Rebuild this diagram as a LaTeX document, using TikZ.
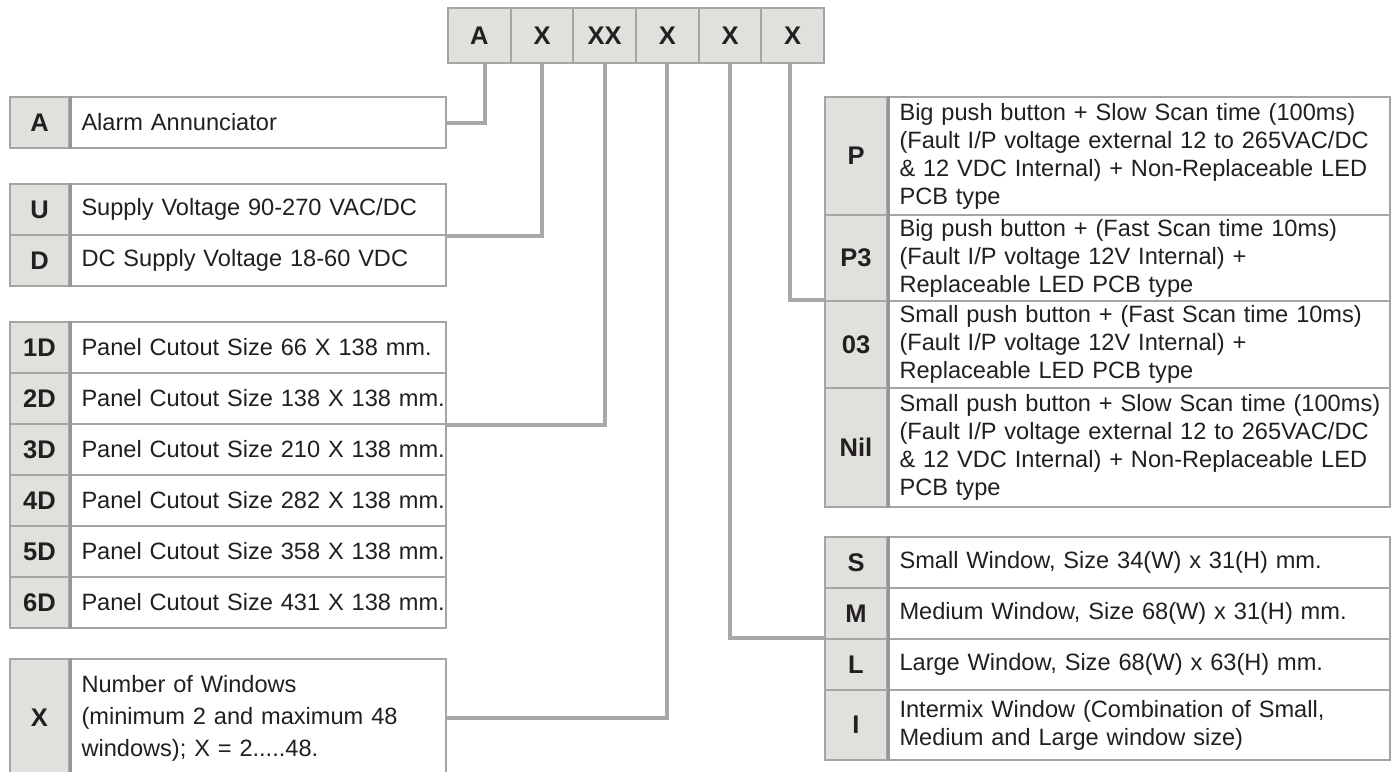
\documentclass[tikz,border=0pt]{standalone}
\usepackage{fontspec}
\setmainfont{Liberation Sans}
\definecolor{linegray}{RGB}{165,165,165}
\definecolor{divgray}{RGB}{150,150,150}
\definecolor{wiregray}{RGB}{168,168,168}
\definecolor{cellgray}{RGB}{224,224,220}
\definecolor{ink}{RGB}{35,31,32}
\newcommand{\bigtxt}{\fontsize{23.6}{28}\selectfont}
\newcommand{\codetxt}{\fontsize{25.5}{28}\selectfont\bfseries}

\begin{document}
\begin{tikzpicture}[x=1pt, y=-1pt,
  cell/.style={draw=linegray, line width=2pt, fill=cellgray, anchor=north west, inner sep=0pt, minimum width=62.67pt, minimum height=55pt, text=ink, font=\codetxt},
  code/.style={draw=linegray, line width=2pt, fill=cellgray, anchor=north west, inner sep=0pt, minimum width=59pt, minimum height=51pt, text=ink, font=\codetxt},
  rcode/.style={code, minimum width=62pt},
  desc/.style={draw=linegray, line width=2pt, fill=white, anchor=north west, inner sep=0pt, text width=#1, minimum height=51pt, align=left, text=ink, font=\bigtxt, execute at begin node={\leftskip=12.5pt}},
  divider/.style={draw=divgray, line width=3pt},
  wire/.style={draw=wiregray, line width=4pt}
]
\useasboundingbox (0,0) rectangle (1391,771);

% order code
\foreach \t [count=\i] in {A,X,XX,X,X,X}
  \node[cell] (c\i) at ({447+62.67*(\i-1)},7) {\t};

% left side
\node[code] (a) at (9,96) {A};
\node[desc=377pt] (ad) at (68,96) {Alarm Annunciator};

\node[code] (u) at (9,183) {U};
\node[desc=377pt] (ud) at (68,183) {Supply Voltage 90-270 VAC/DC};
\node[code] (d) at (9,234) {D};
\node[desc=377pt] (dd) at (68,234) {DC Supply Voltage 18-60 VDC};

\foreach \k/\sz [count=\i from 0] in {1D/66,2D/138,3D/210,4D/282,5D/358,6D/431} {
  \node[code] (p\k) at ({9},{321+51*\i}) {\k};
  \node[desc=377pt] (pd\k) at ({68},{321+51*\i}) {Panel Cutout Size \sz\ X 138 mm.};
}

\node[code, minimum height=118pt] (x) at (9,658) {X};
\node[desc=377pt, minimum height=118pt, font=\fontsize{23.6}{32}\selectfont] (xd) at (68,658) {Number of Windows\\(minimum 2 and maximum 48\\windows); X = 2.....48.};

% right side
\node[rcode, minimum height=118pt] (p) at (824,96) {P};
\node[desc=503pt, minimum height=118pt] (pd) at (886,96) {Big push button + Slow Scan time (100ms)\\(Fault I/P voltage external 12 to 265VAC/DC\\\& 12 VDC Internal) + Non-Replaceable LED\\PCB type};
\node[rcode, minimum height=86pt] (p3) at (824,214) {P3};
\node[desc=503pt, minimum height=86pt] (p3d) at (886,214) {Big push button + (Fast Scan time 10ms)\\(Fault I/P voltage 12V Internal) +\\Replaceable LED PCB type};
\node[rcode, minimum height=87pt] (o3) at (824,300) {03};
\node[desc=503pt, minimum height=87pt] (o3d) at (886,300) {Small push button + (Fast Scan time 10ms)\\(Fault I/P voltage 12V Internal) +\\Replaceable LED PCB type};
\node[rcode, minimum height=119pt] (nil) at (824,387) {Nil};
\node[desc=503pt, minimum height=119pt] (nild) at (886,387) {Small push button + Slow Scan time (100ms)\\(Fault I/P voltage external 12 to 265VAC/DC\\\& 12 VDC Internal) + Non-Replaceable LED\\PCB type};

\node[rcode] (s) at (824,536) {S};
\node[desc=503pt] (sd) at (886,536) {Small Window, Size 34(W) x 31(H) mm.};
\node[rcode] (m) at (824,587) {M};
\node[desc=503pt] (md) at (886,587) {Medium Window, Size 68(W) x 31(H) mm.};
\node[rcode] (l) at (824,638) {L};
\node[desc=503pt] (ld) at (886,638) {Large Window, Size 68(W) x 63(H) mm.};
\node[rcode, minimum height=70pt] (i) at (824,689) {I};
\node[desc=503pt, minimum height=70pt] (id) at (886,689) {Intermix Window (Combination of Small,\\Medium and Large window size)};

% code column edges
\foreach \n in {a,u,d,p1D,p2D,p3D,p4D,p5D,p6D,x,p,p3,o3,nil,s,m,l,i}
  \draw[divider] (\n.north east) -- (\n.south east);

% connectors
\draw[wire] (ad.east) -| ([xshift=6pt]c1.south);
\draw[wire] (ud.south east) -| (c2.south);
\draw[wire] (pd2D.south east) -| (c3.south);
\draw[wire] (xd.east) -| (c4.south);
\draw[wire] (c5.south) |- (l.north west);
\draw[wire] ([xshift=-3pt]c6.south) |- (o3.north west);

\end{tikzpicture}
\end{document}
